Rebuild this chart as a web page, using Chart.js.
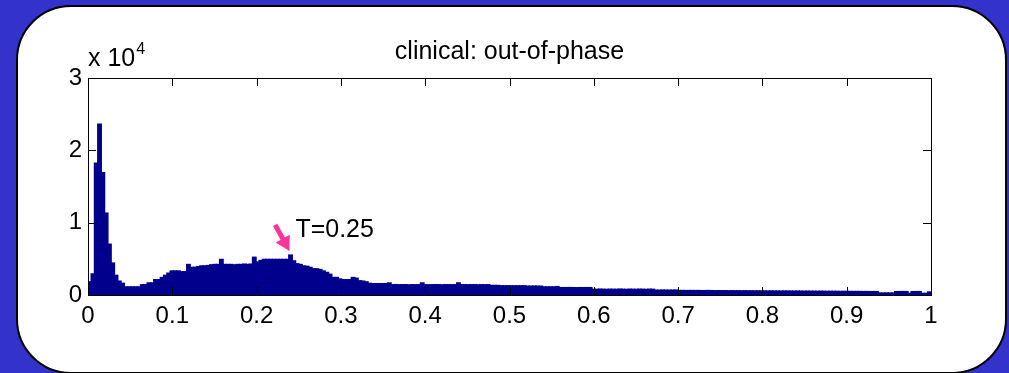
<!DOCTYPE html>
<html>
<head>
<meta charset="utf-8">
<script src="https://cdn.jsdelivr.net/npm/chart.js@4.4.1/dist/chart.umd.min.js"></script>
<style>
  html, body { margin: 0; padding: 0; background: #3333cc; }
  canvas { display: block; }
</style>
</head>
<body>
<canvas id="grafica" width="1009" height="373"></canvas>
<script>
// datos del histograma (256 bins entre 0 y 1), cuentas
const counts = [
  1800, 2900, 18200, 23600, 16900, 11300, 7000, 4400, 2700, 1900,
  1600, 1100, 1100, 1100, 1100, 1100, 1400, 1400, 1650, 1650,
  2100, 2100, 2400, 2700, 3000, 3300, 3300, 3300, 3200, 3200,
  4200, 3800, 3800, 3900, 4000, 4000, 4050, 4150, 4200, 4200,
  4900, 4200, 4200, 4200, 4150, 4200, 4200, 4250, 4200, 4250,
  5200, 4550, 4750, 4900, 4900, 4900, 4900, 4900, 4900, 4900,
  4900, 5500, 4700, 4300, 4200, 4000, 3950, 3800, 3600, 3600,
  3500, 3300, 3100, 2850, 2400, 2400, 2200, 2100, 2100, 2100,
  2400, 2300, 1950, 1900, 1800, 1600, 1550, 1550, 1550, 1550,
  1550, 1650, 1400, 1420, 1390, 1400, 1410, 1380, 1400, 1390,
  1400, 1650, 1400, 1390, 1400, 1410, 1400, 1380, 1400, 1400,
  1390, 1400, 1650, 1400, 1400, 1390, 1400, 1400, 1380, 1400,
  1390, 1400, 1300, 1300, 1300, 1250, 1250, 1260, 1250, 1240,
  1250, 1250, 1250, 1200, 1200, 1210, 1200, 1200, 1100, 1100,
  1100, 1100, 1150, 1000, 1000, 1000, 1010, 1000, 990, 1000,
  1000, 1000, 1000, 770, 760, 790, 770, 750, 780, 770,
  760, 790, 770, 750, 780, 770, 760, 780, 770, 750,
  780, 770, 650, 640, 660, 650, 640, 650, 660, 600,
  600, 590, 600, 600, 590, 600, 580, 590, 600, 580,
  570, 580, 570, 570, 560, 570, 560, 560, 550, 560,
  550, 550, 540, 550, 540, 540, 530, 540, 530, 530,
  520, 530, 520, 520, 510, 520, 510, 500, 510, 500,
  500, 490, 500, 490, 480, 490, 480, 480, 470, 480,
  470, 470, 460, 470, 460, 450, 460, 450, 450, 450,
  250, 250, 260, 250, 250, 450, 450, 460, 450, 200,
  450, 450, 460, 200, 200, 400
];
const xTicks = [0, 0.1, 0.2, 0.3, 0.4, 0.5, 0.6, 0.7, 0.8, 0.9, 1];
const yTicks = [0, 10000, 20000, 30000];
const titulo = "clinical: out-of-phase";
const etiqueta = "T=0.25";
// flecha en coordenadas de datos: cola y punta
const flechaCola = [0.222, 9700];
const flechaPunta = [0.239, 6100];
const textoPos = [0.246, 8000];

const binWidth = 1 / counts.length;
const datos = counts.map((c, i) => ({ x: (i + 0.5) * binWidth, y: c }));

const FONT = "'Liberation Sans', Arial, sans-serif";

const fondo = {
  id: "fondo",
  beforeDraw(chart) {
    const ctx = chart.ctx;
    ctx.save();
    ctx.fillStyle = "#3333cc";
    ctx.fillRect(0, 0, chart.width, chart.height);
    ctx.beginPath();
    ctx.roundRect(17, 6, 989, 367, 54);
    ctx.fillStyle = "#ffffff";
    ctx.fill();
    ctx.lineWidth = 2;
    ctx.strokeStyle = "#000000";
    ctx.stroke();
    ctx.restore();
  }
};

const ejes = {
  id: "ejes",
  afterDraw(chart) {
    const ctx = chart.ctx;
    const a = chart.chartArea;
    const xs = chart.scales.x, ys = chart.scales.y;
    ctx.save();
    ctx.strokeStyle = "#000000";
    ctx.lineWidth = 1;
    ctx.beginPath();
    xTicks.forEach(v => {
      const px = Math.round(xs.getPixelForValue(v)) + 0.5;
      ctx.moveTo(px, a.bottom); ctx.lineTo(px, a.bottom - 8);
      ctx.moveTo(px, a.top); ctx.lineTo(px, a.top + 8);
    });
    yTicks.forEach(v => {
      const py = Math.round(ys.getPixelForValue(v)) + 0.5;
      ctx.moveTo(a.left, py); ctx.lineTo(a.left + 8, py);
      ctx.moveTo(a.right, py); ctx.lineTo(a.right - 8, py);
    });
    ctx.stroke();
    ctx.strokeRect(Math.round(a.left) + 0.5, Math.round(a.top) + 0.5,
      Math.round(a.right - a.left), Math.round(a.bottom - a.top));

    // titulo y exponente
    ctx.fillStyle = "#000000";
    ctx.textAlign = "center";
    ctx.textBaseline = "alphabetic";
    ctx.font = "25px " + FONT;
    ctx.fillText(titulo, (a.left + a.right) / 2, 59);
    ctx.textAlign = "left";
    ctx.font = "25px " + FONT;
    ctx.fillText("x 10", a.left, 66);
    const w = ctx.measureText("x 10").width;
    ctx.font = "16px " + FONT;
    ctx.fillText("4", a.left + w + 1, 54);

    // flecha rosa
    const x0 = xs.getPixelForValue(flechaCola[0]), y0 = ys.getPixelForValue(flechaCola[1]);
    const x1 = xs.getPixelForValue(flechaPunta[0]), y1 = ys.getPixelForValue(flechaPunta[1]);
    const ang = Math.atan2(y1 - y0, x1 - x0);
    ctx.strokeStyle = "#ff3399";
    ctx.fillStyle = "#ff3399";
    ctx.lineWidth = 5;
    ctx.beginPath();
    ctx.moveTo(x0, y0);
    ctx.lineTo(x1 - 10 * Math.cos(ang), y1 - 10 * Math.sin(ang));
    ctx.stroke();
    ctx.beginPath();
    ctx.moveTo(x1, y1);
    ctx.lineTo(x1 - 14 * Math.cos(ang) + 8 * Math.sin(ang), y1 - 14 * Math.sin(ang) - 8 * Math.cos(ang));
    ctx.lineTo(x1 - 14 * Math.cos(ang) - 8 * Math.sin(ang), y1 - 14 * Math.sin(ang) + 8 * Math.cos(ang));
    ctx.closePath();
    ctx.fill();

    ctx.fillStyle = "#000000";
    ctx.font = "25px " + FONT;
    ctx.fillText(etiqueta, xs.getPixelForValue(textoPos[0]), ys.getPixelForValue(textoPos[1]));
    ctx.restore();
  }
};

new Chart(document.getElementById("grafica"), {
  type: "bar",
  data: {
    datasets: [{
      data: datos,
      backgroundColor: "#00008c",
      borderWidth: 0,
      inflateAmount: 0.8,
      barPercentage: 1,
      categoryPercentage: 1
    }]
  },
  options: {
    responsive: false,
    animation: false,
    devicePixelRatio: 1,
    layout: { padding: { left: 0, right: 78, top: 78, bottom: 0 } },
    plugins: { legend: { display: false }, tooltip: { enabled: false } },
    scales: {
      x: {
        type: "linear",
        min: 0, max: 1,
        offset: false,
        grid: { display: false, drawTicks: false },
        border: { display: false },
        afterFit: s => { s.height = 78; },
        afterBuildTicks: s => { s.ticks = xTicks.map(v => ({ value: v })); },
        ticks: {
          padding: 7,
          color: "#000000",
          font: { family: FONT, size: 24 },
          callback: v => String(Math.round(v * 10) / 10)
        }
      },
      y: {
        min: 0, max: 30000,
        grid: { display: false, drawTicks: false },
        border: { display: false },
        afterFit: s => { s.width = 88; },
        afterBuildTicks: s => { s.ticks = yTicks.map(v => ({ value: v })); },
        ticks: {
          padding: 6,
          color: "#000000",
          font: { family: FONT, size: 24 },
          callback: v => String(v / 10000)
        }
      }
    }
  },
  plugins: [fondo, ejes]
});
</script>
</body>
</html>
